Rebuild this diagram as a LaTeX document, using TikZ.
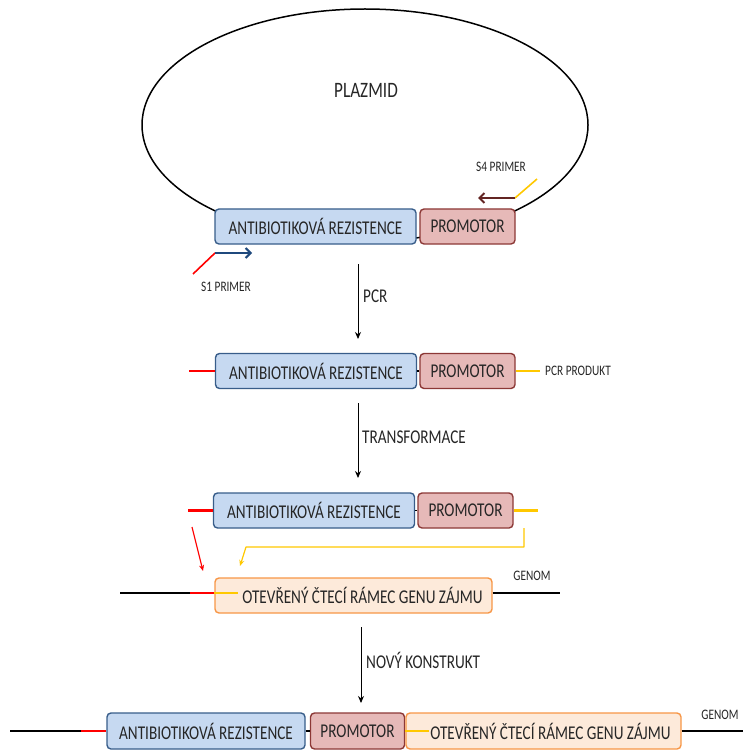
\documentclass[tikz,border=0pt]{standalone}
\usepackage{fontspec}
\setmainfont[FakeStretch=0.78]{Carlito}
\usetikzlibrary{arrows.meta,calc}
\definecolor{arfill}{HTML}{C6D9F1}
\definecolor{ardraw}{HTML}{385D8A}
\definecolor{prfill}{HTML}{E6B9B8}
\definecolor{prdraw}{HTML}{8C3836}
\definecolor{orffill}{HTML}{FDEADA}
\definecolor{orfdraw}{HTML}{F79646}
\definecolor{txt}{HTML}{262626}
\definecolor{ylw}{HTML}{FFC800}
\definecolor{s1blue}{HTML}{1F497D}
\definecolor{s4red}{HTML}{632523}
\begin{document}
\begin{tikzpicture}[x=1pt,y=-1pt,
  box/.style={draw,rounded corners=4pt,line width=1.4pt,inner sep=0pt,minimum height=35pt,text=txt,font=\fontsize{19.5}{20}\selectfont},
  arbox/.style={box,fill=arfill,draw=ardraw,minimum width=201pt},
  prbox/.style={box,fill=prfill,draw=prdraw,minimum width=95pt},
  orfbox/.style={box,fill=orffill,draw=orfdraw,minimum width=277pt},
  lbl/.style={text=txt,inner sep=0pt,font=\fontsize{19.5}{20}\selectfont},
  small/.style={text=txt,inner sep=0pt,font=\fontsize{14.5}{15}\selectfont},
  dna/.style={line width=2.2pt},
  step arrow/.style={line width=1pt,-{Stealth[length=7pt,width=6pt]}},
  thin arrow/.style={line width=1.2pt,-{Stealth[length=6pt,width=5pt]}}]
\useasboundingbox (0,0) rectangle (743,751);

% ---- plasmid ----
\draw[line width=1.5pt] (365,125) ellipse [x radius=223pt, y radius=116pt];
\node[lbl,font=\fontsize{22}{22}\selectfont] (plz) at (366,90) {PLAZMID};
\node[arbox] (ar1) at (315.5,226.5) {ANTIBIOTIKOVÁ REZISTENCE};
\node[prbox] (pr1) at (467.5,226.5) {PROMOTOR};

% S4 primer
\coordinate (s4a) at (537,179);
\coordinate (s4b) at (515,198);
\coordinate (s4c) at (478,198);
\draw[line width=1.6pt,ylw] (s4a) -- (s4b);
\draw[line width=2pt,s4red,-{Straight Barb[length=5pt,width=10pt]}] (s4b) -- (s4c);
\node[small] (s4l) at (501,167) {S4 PRIMER};

% S1 primer
\coordinate (s1a) at (193,274);
\coordinate (s1b) at (215,253);
\coordinate (s1c) at (252,253);
\draw[line width=1.6pt,red] (s1a) -- (s1b);
\draw[line width=2pt,s1blue,-{Straight Barb[length=5pt,width=10pt]}] (s1b) -- (s1c);
\node[small] (s1l) at (226,287) {S1 PRIMER};

% PCR arrow
\coordinate (p1) at (358,264);
\coordinate (p2) at (358,339);
\draw[step arrow] (p1) -- (p2);
\node[lbl,anchor=west] (pcr) at (363,296) {PCR};

% ---- PCR product ----
\node[arbox] (ar2) at (316,371) {ANTIBIOTIKOVÁ REZISTENCE};
\node[prbox] (pr2) at (467.5,371) {PROMOTOR};
\draw[line width=1.5pt] (ar2.east) -- (pr2.west);
\coordinate (r2) at (189,371);
\coordinate (y2) at (540,371);
\draw[dna,red] (r2) -- (ar2.west);
\draw[dna,ylw] (pr2.east) -- (y2);
\node[small,anchor=west] (pcrp) at (545,371) {PCR PRODUKT};

% TRANSFORMACE arrow
\coordinate (t1) at (358,403);
\coordinate (t2) at (358,478);
\draw[step arrow] (t1) -- (t2);
\node[lbl,anchor=west] (trf) at (362,437) {TRANSFORMACE};

% ---- transformation ----
\node[arbox] (ar3) at (314,510.5) {ANTIBIOTIKOVÁ REZISTENCE};
\node[prbox] (pr3) at (465.5,510.5) {PROMOTOR};
\draw[line width=1.5pt] (ar3.east) -- (pr3.west);
\coordinate (r3) at (188,510.5);
\coordinate (y3) at (538,510.5);
\draw[dna,red] (r3) -- (ar3.west);
\draw[dna,ylw] (pr3.east) -- (y3);

% homology arrows
\coordinate (ra) at (192,527);
\coordinate (rb) at (203,571);
\draw[thin arrow,red] (ra) -- (rb);
\coordinate (ya) at (524,528);
\coordinate (yb) at (524,547);
\coordinate (yc) at (246,547);
\coordinate (yd) at (240,566);
\draw[thin arrow,ylw,line join=round] (ya) -- (yb) -- (yc) -- (yd);

% ---- genome ----
\node[orfbox] (orf4) at (353.5,595.5) {\hspace*{18pt}OTEVŘENÝ ČTECÍ RÁMEC GENU ZÁJMU};
\coordinate (g4a) at (120,593);
\coordinate (g4b) at (190,593);
\coordinate (g4c) at (238,593);
\coordinate (g4d) at (560,593);
\draw[dna] (g4a) -- (g4b);
\draw[dna,red] (g4b) -- (orf4.west |- g4b);
\draw[dna,ylw] (orf4.west |- g4b) -- (g4c);
\draw[dna] (orf4.east |- g4d) -- (g4d);
\node[small] (gen4) at (532,576) {GENOM};

% NOVÝ KONSTRUKT arrow
\coordinate (n1) at (361,627);
\coordinate (n2) at (361,703);
\draw[step arrow] (n1) -- (n2);
\node[lbl,anchor=west] (nk) at (366,660) {NOVÝ KONSTRUKT};

% ---- new construct ----
\node[arbox,minimum width=198pt,minimum height=36pt] (ar5) at (206,731) {ANTIBIOTIKOVÁ REZISTENCE};
\node[prbox,minimum width=94pt,minimum height=36pt] (pr5) at (357.5,731) {PROMOTOR};
\node[orfbox,minimum width=275pt,minimum height=36pt] (orf5) at (543.5,731) {\hspace*{14pt}OTEVŘENÝ ČTECÍ RÁMEC GENU ZÁJMU};
\draw[line width=1.5pt] (ar5.east) -- (pr5.west);
\coordinate (g5a) at (10,731);
\coordinate (g5b) at (81,731);
\coordinate (g5c) at (429,731);
\coordinate (g5d) at (743,731);
\draw[dna] (g5a) -- (g5b);
\draw[dna,red] (g5b) -- (ar5.west);
\draw[dna,ylw] (orf5.west) -- (g5c);
\draw[dna] (orf5.east) -- (g5d);
\node[small] (gen5) at (720,715) {GENOM};
\end{tikzpicture}
\end{document}
